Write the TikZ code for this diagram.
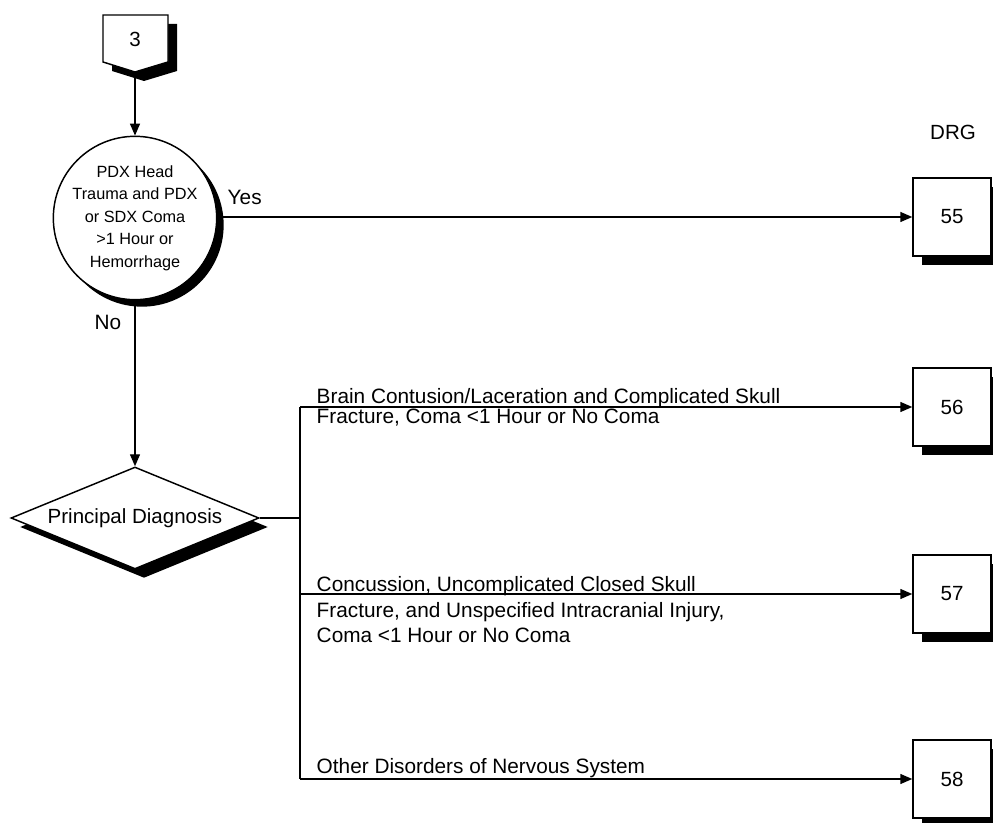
\documentclass[tikz,border=0pt]{standalone}
\usepackage{fontspec}
\setmainfont{Liberation Sans}
\usetikzlibrary{arrows.meta,shapes.geometric,shadows}
\begin{document}
\begin{tikzpicture}[x=0.75pt,y=-0.75pt,
  line width=1.1pt,
  every node/.style={inner sep=0pt},
  hardshadow/.style={general shadow={fill=black,shadow xshift=#1,shadow yshift=-#1}},
  hardshadow/.default=6.75pt,
  lbl/.style={font=\fontsize{15.6}{19.1}\selectfont, anchor=base west},
  drgbox/.style={draw, fill=white, minimum size=58.5pt, hardshadow,
    font=\fontsize{15.4}{19}\selectfont},
  decision/.style={draw, fill=white, circle, minimum size=103.5pt, hardshadow=5.25pt,
    align=center, font=\fontsize{12.2}{16.9}\selectfont},
  choice/.style={draw, fill=white, diamond, shape aspect=2.43,
    minimum width=186pt, minimum height=76.5pt,
    hardshadow, font=\fontsize{15.4}{19}\selectfont},
  flow/.style={-{Triangle[length=9pt,width=7.5pt]}},
  bus/.style={line width=1.9pt}]
\useasboundingbox (0,0) rectangle (993,823);

% off-page connector
\draw[fill=white, hardshadow] (103,15) -- (168,15) -- (168,62) -- (135,72) -- (103,62) -- cycle;
\node[font=\fontsize{15.4}{19}\selectfont] (c3) at (135,39) {3};
\coordinate (c3tip) at (135,72);

% decision and choice
\node[decision] (q1) at (135,218) {PDX Head\\Trauma and PDX\\or SDX Coma\\>1 Hour or\\Hemorrhage};
\node[choice] (pd) at (135,518) {Principal Diagnosis};

% DRG boxes
\node[font=\fontsize{15.4}{19}\selectfont, anchor=base] (drg) at (953,140) {DRG};
\node[drgbox] (b55) at (952,217) {55};
\node[drgbox] (b56) at (952,407) {56};
\node[drgbox] (b57) at (952,594) {57};
\node[drgbox] (b58) at (952,779) {58};

% connectors
\draw[flow] (c3tip) -- (q1.north);
\draw[flow] (q1.east |- b55.west) -- (b55.west);
\node[lbl] (yes) at (227,205) {Yes};
\draw[flow] (q1.south) -- (pd.north);
\node[lbl, anchor=base] (no) at (108,330) {No};

\coordinate (bj) at (300,518);
\coordinate (bt) at (300,407);
\coordinate (bm) at (300,594);
\coordinate (bb) at (300,779);
\draw (pd.east) -- (bj);
\draw[bus] (bt) -- (bb);
\draw[flow] (bt) -- (b56.west);
\draw[flow] (bm) -- (b57.west);
\draw[flow] (bb) -- (b58.west);

% branch labels
\node[lbl] (t56a) at (316,403.5) {Brain Contusion/Laceration and Complicated Skull};
\node[lbl] (t56b) at (316,424) {Fracture, Coma <1 Hour or No Coma};
\node[lbl] (t57a) at (316,591) {Concussion, Uncomplicated Closed Skull};
\node[lbl] (t57b) at (316,617) {Fracture, and Unspecified Intracranial Injury,};
\node[lbl] (t57c) at (316,642) {Coma <1 Hour or No Coma};
\node[lbl] (t58) at (316,773) {Other Disorders of Nervous System};
\end{tikzpicture}
\end{document}
